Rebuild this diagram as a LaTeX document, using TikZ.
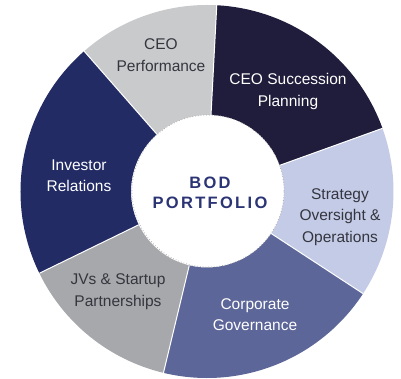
\documentclass[tikz,border=0pt]{standalone}
\usepackage{fontspec}
\setmainfont{Liberation Sans}
\definecolor{cperf}{HTML}{C9CACC}
\definecolor{csucc}{HTML}{1F1D3B}
\definecolor{cstrat}{HTML}{C3CBE6}
\definecolor{cgov}{HTML}{5C6698}
\definecolor{cjv}{HTML}{A7A8AB}
\definecolor{cinv}{HTML}{232B65}
\definecolor{ctxtdark}{HTML}{35353F}
\definecolor{cbod}{HTML}{2B3475}
\begin{document}
\begin{tikzpicture}[x=1pt,y=1pt,
  seg/.style={draw=white,line width=1pt},
  lbl/.style={align=center,font=\fontsize{15.5}{21.5}\selectfont,inner sep=0pt},
  darklbl/.style={lbl,text=ctxtdark},
  lightlbl/.style={lbl,text=white}]
\useasboundingbox (-207,-187.5) rectangle (194,191.5);
\def\Ro{186.5}
\def\Ri{76}
% segments
\foreach \a/\b/\c in {19.8/87/csucc, -33.2/19.8/cstrat, -103.5/-33.2/cgov, 206/256.5/cjv, 131.2/206/cinv, 87/131.2/cperf}{
  \fill[\c] (\a:\Ri) -- (\a:\Ro) arc[start angle=\a,end angle=\b,radius=\Ro] -- (\b:\Ri) arc[start angle=\b,end angle=\a,radius=\Ri] -- cycle;
}
\foreach \a in {19.8,-33.2,-103.5,206,131.2,87}{
  \draw[white,line width=1pt] (\a:\Ri) -- (\a:\Ro);
}
\node[circle,fill=white,draw=gray!60,dotted,line width=0.8pt,minimum size=152pt,inner sep=0pt] (hub) at (1,0.5) {};
\node[font=\fontsize{16.5}{20}\selectfont\bfseries\addfontfeature{LetterSpace=14},text=cbod,align=center,inner sep=0pt] (bod) at (3,-1.5) {BOD\\PORTFOLIO};
\node[darklbl] (perf) at (-46,136.5) {CEO\\Performance};
\node[lightlbl] (succ) at (81,100) {CEO Succession\\Planning};
\node[darklbl] (strat) at (133,-25.5) {Strategy\\Oversight \&\\Operations};
\node[lightlbl] (gov) at (48,-123) {Corporate\\Governance};
\node[darklbl] (jv) at (-89,-100) {JVs \& Startup\\Partnerships};
\node[lightlbl] (inv) at (-128,16) {Investor\\Relations};
\end{tikzpicture}
\end{document}
